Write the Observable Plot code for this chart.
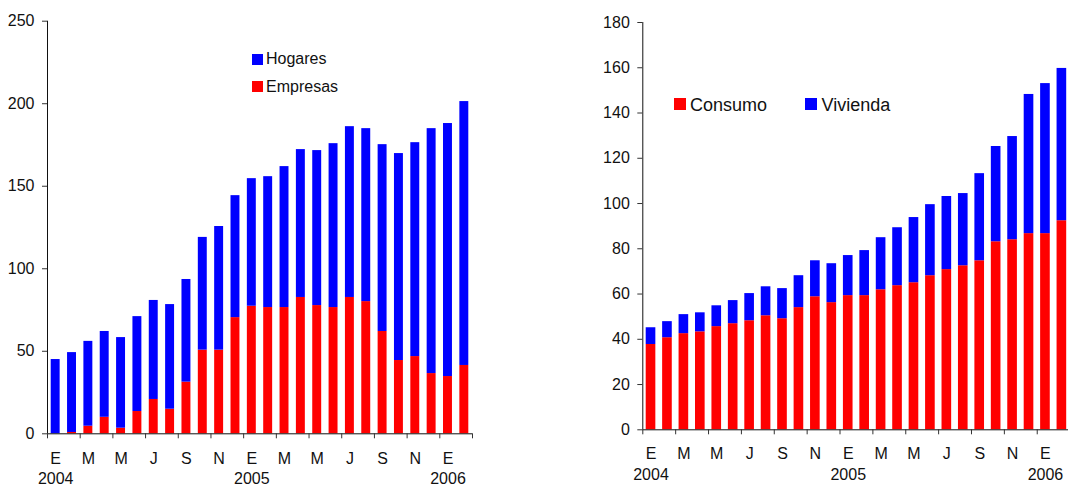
<!DOCTYPE html>
<html>
<head>
<meta charset="utf-8">
<script src="https://cdn.jsdelivr.net/npm/d3@7"></script>
<script src="https://cdn.jsdelivr.net/npm/@observablehq/plot@0.6"></script>
<style>
  html, body { margin: 0; padding: 0; background: #fff; overflow: hidden; }
  #wrap { position: relative; width: 1068px; height: 485px; overflow: hidden; font-family: "Liberation Sans", Arial, sans-serif; color: #111; }
  .panel { position: absolute; top: 0; }
  .panel svg { max-width: none !important; }
  .sw { position: absolute; }
  .lt { position: absolute; white-space: nowrap; }
</style>
</head>
<body>
<div id="wrap">
  <div id="left" class="panel" style="left:0px;width:500px"></div>
  <div id="right" class="panel" style="left:600px;width:480px"></div>
  <div class="sw" style="left:252px;top:54px;width:11px;height:11px;background:#0000ff"></div>
  <div class="lt" style="left:266px;top:50.8px;font-size:16px;line-height:16px">Hogares</div>
  <div class="sw" style="left:252px;top:81px;width:11px;height:11px;background:#ff0000"></div>
  <div class="lt" style="left:266px;top:78.8px;font-size:16px;line-height:16px">Empresas</div>
  <div class="sw" style="left:674px;top:97.5px;width:12px;height:12px;background:#ff0000"></div>
  <div class="lt" style="left:690px;top:95.5px;font-size:18px;line-height:18px">Consumo</div>
  <div class="sw" style="left:805px;top:97.5px;width:12px;height:12px;background:#0000ff"></div>
  <div class="lt" style="left:821.5px;top:95.5px;font-size:18px;line-height:18px">Vivienda</div>
</div>
<script>
// Months Jan 2004 .. Feb 2006 (26 months)
const monthLetters = ["E","F","M","A","M","J","J","A","S","O","N","D"];
const yearLabels = ["2004", "2005", "2006"];

// Left chart: Hogares / Empresas
const empresas = [0, 0.8, 4.6, 10, 3.4, 13.5, 20.8, 14.9, 31.3, 50.7, 50.7, 70.4, 77.3, 76.5, 76.5, 82.6, 77.7, 76.5, 82.6, 80.1, 62, 44.4, 46.8, 36.5, 34.7, 41.4];
const hogares = [45, 48.4, 51.4, 52, 54.9, 57.5, 60, 63.4, 62.2, 68.3, 74.9, 73.9, 77.3, 79.3, 85.4, 89.6, 93.9, 99.3, 103.5, 104.8, 113.2, 125.4, 129.6, 148.4, 153.3, 159.9];

// Right chart: Consumo / Vivienda
const consumo = [37.7, 40.7, 42.5, 43.3, 45.6, 46.9, 48.2, 50.4, 49.1, 54.0, 58.8, 56.2, 59.3, 59.3, 61.9, 63.7, 65.0, 68.1, 70.8, 72.5, 74.7, 83.1, 84.0, 86.7, 86.7, 92.4];
const vivienda = [7.4, 7.1, 8.4, 8.4, 9.2, 10.2, 12.0, 12.8, 13.3, 14.1, 15.9, 17.2, 17.7, 19.9, 23.0, 25.6, 28.8, 31.4, 32.3, 31.9, 38.5, 42.1, 45.6, 61.5, 66.3, 67.3];

const leftTicks = [0, 50, 100, 150, 200, 250];
const rightTicks = [0, 20, 40, 60, 80, 100, 120, 140, 160, 180];

const n = 26;
const idx = d3.range(n);
const labelIdx = d3.range(0, n, 2);
const yearIdx = [0, 12, 24];
const tickPos = d3.range(0, n + 1, 2);

function stackRows(bottom, top, bottomColor, topColor) {
  const rows = [];
  idx.forEach(i => {
    rows.push({i, y1: 0, y2: bottom[i], c: bottomColor});
    rows.push({i, y1: bottom[i], y2: bottom[i] + top[i], c: topColor});
  });
  return rows;
}

function chart({rows, yMax, yTicks, width, mLeft, mRight, mTop, mBottom, inset, dyM, dyY}) {
  return Plot.plot({
    width, height: 485,
    marginLeft: mLeft, marginRight: mRight, marginTop: mTop, marginBottom: mBottom,
    style: {fontFamily: "'Liberation Sans', Arial, sans-serif", fontSize: "16px", color: "#111", background: "transparent", overflow: "visible", maxWidth: "none"},
    x: {type: "linear", domain: [0, n], label: null},
    y: {domain: [0, yMax], label: null},
    marks: [
      Plot.rectY(rows, {x1: d => d.i, x2: d => d.i + 1, y1: "y1", y2: "y2", fill: d => d.c, insetLeft: inset, insetRight: inset}),
      Plot.ruleY([0], {stroke: "#111", strokeWidth: 1}),
      Plot.ruleX([0], {stroke: "#111", strokeWidth: 1}),
      Plot.axisY({ticks: yTicks, tickSize: 5, tickPadding: 8, label: null, stroke: "#333"}),
      Plot.axisX({ticks: tickPos, tickSize: 5, tickFormat: () => "", label: null, stroke: "#333"}),
      Plot.text(labelIdx, {x: i => i + 0.5, frameAnchor: "bottom", dy: dyM, text: i => monthLetters[i % 12], lineAnchor: "middle", fontSize: 16}),
      Plot.text(yearIdx, {x: i => i + 0.5, frameAnchor: "bottom", dy: dyY, text: (i, k) => yearLabels[k], lineAnchor: "middle", fontSize: 16})
    ]
  });
}

document.getElementById("left").append(chart({
  rows: stackRows(empresas, hogares, "#ff0000", "#0000ff"),
  yMax: 250, yTicks: leftTicks, width: 500,
  mLeft: 47, mRight: 28, mTop: 20.7, mBottom: 51.7, inset: 3.7, dyM: 24.7, dyY: 44.8
}));

document.getElementById("right").append(chart({
  rows: stackRows(consumo, vivienda, "#ff0000", "#0000ff"),
  yMax: 180, yTicks: rightTicks, width: 480,
  mLeft: 42.3, mRight: 10.4, mTop: 22, mBottom: 55.7, inset: 3.4, dyM: 24, dyY: 45.3
}));
</script>
</body>
</html>
